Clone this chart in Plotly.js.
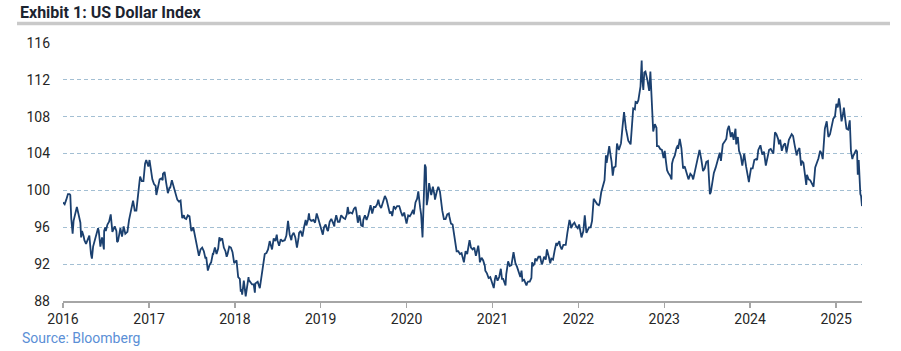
<!DOCTYPE html>
<html><head><meta charset="utf-8">
<script src="https://cdn.plot.ly/plotly-3.0.1.min.js"></script>
<style>html,body{margin:0;padding:0;background:#fff}#chart{width:901px;height:351px}</style>
</head><body><div id="chart"></div>
<script>
// US Dollar Index (DXY), readings
const dates = [
"2016-01-01","2016-01-08","2016-01-15","2016-01-22","2016-01-29",
"2016-02-01","2016-02-05","2016-02-11","2016-02-15","2016-02-22","2016-02-29",
"2016-03-01","2016-03-08","2016-03-15","2016-03-18","2016-03-22","2016-03-29",
"2016-04-01","2016-04-08","2016-04-15","2016-04-22","2016-04-29",
"2016-05-03","2016-05-08","2016-05-15","2016-05-22","2016-05-29",
"2016-06-01","2016-06-08","2016-06-15","2016-06-23","2016-06-24","2016-06-29",
"2016-07-01","2016-07-08","2016-07-15","2016-07-22","2016-07-29",
"2016-08-01","2016-08-08","2016-08-15","2016-08-18","2016-08-22","2016-08-29",
"2016-09-01","2016-09-08","2016-09-15","2016-09-22","2016-09-29",
"2016-10-01","2016-10-08","2016-10-15","2016-10-22","2016-10-25","2016-10-29",
"2016-11-01","2016-11-08","2016-11-15","2016-11-22","2016-11-24","2016-11-29",
"2016-12-01","2016-12-08","2016-12-15","2016-12-20","2016-12-22","2016-12-29",
"2017-01-03","2017-01-08","2017-01-15","2017-01-22","2017-01-29",
"2017-02-01","2017-02-08","2017-02-15","2017-02-22","2017-02-28",
"2017-03-01","2017-03-08","2017-03-15","2017-03-22","2017-03-29",
"2017-04-01","2017-04-08","2017-04-15","2017-04-22","2017-04-29",
"2017-05-01","2017-05-08","2017-05-15","2017-05-22","2017-05-29",
"2017-06-01","2017-06-08","2017-06-15","2017-06-22","2017-06-29",
"2017-07-01","2017-07-08","2017-07-15","2017-07-22","2017-07-29",
"2017-08-01","2017-08-08","2017-08-15","2017-08-22","2017-08-29",
"2017-09-01","2017-09-08","2017-09-15","2017-09-22","2017-09-29",
"2017-10-01","2017-10-08","2017-10-15","2017-10-22","2017-10-27",
"2017-11-01","2017-11-08","2017-11-15","2017-11-22","2017-11-27",
"2017-12-01","2017-12-08","2017-12-15","2017-12-22","2017-12-29",
"2018-01-01","2018-01-08","2018-01-15","2018-01-22","2018-01-26","2018-01-29",
"2018-02-01","2018-02-08","2018-02-16","2018-02-22","2018-02-28",
"2018-03-01","2018-03-08","2018-03-15","2018-03-22","2018-03-27","2018-03-29",
"2018-04-01","2018-04-08","2018-04-17","2018-04-22","2018-04-29",
"2018-05-01","2018-05-08","2018-05-15","2018-05-22","2018-05-29",
"2018-06-01","2018-06-08","2018-06-15","2018-06-22","2018-06-28",
"2018-07-01","2018-07-08","2018-07-15","2018-07-22","2018-07-29",
"2018-08-01","2018-08-08","2018-08-15","2018-08-22","2018-08-29",
"2018-09-01","2018-09-08","2018-09-15","2018-09-22","2018-09-29",
"2018-10-01","2018-10-08","2018-10-15","2018-10-22","2018-10-29",
"2018-11-01","2018-11-08","2018-11-12","2018-11-15","2018-11-22","2018-11-29",
"2018-12-01","2018-12-08","2018-12-15","2018-12-22","2018-12-29",
"2019-01-01","2019-01-03","2019-01-10","2019-01-15","2019-01-22","2019-01-29",
"2019-02-01","2019-02-08","2019-02-15","2019-02-22","2019-02-28",
"2019-03-01","2019-03-08","2019-03-15","2019-03-22","2019-03-29",
"2019-04-01","2019-04-08","2019-04-15","2019-04-22","2019-04-26",
"2019-05-01","2019-05-08","2019-05-15","2019-05-22","2019-05-29",
"2019-06-01","2019-06-08","2019-06-15","2019-06-22","2019-06-29",
"2019-07-01","2019-07-08","2019-07-15","2019-07-22","2019-07-29",
"2019-08-01","2019-08-08","2019-08-15","2019-08-22","2019-08-29",
"2019-09-03","2019-09-08","2019-09-15","2019-09-22","2019-09-29",
"2019-10-01","2019-10-08","2019-10-15","2019-10-22","2019-10-29",
"2019-11-01","2019-11-08","2019-11-15","2019-11-22","2019-11-29",
"2019-12-01","2019-12-08","2019-12-15","2019-12-22","2019-12-29",
"2020-01-01","2020-01-08","2020-01-15","2020-01-22","2020-01-29",
"2020-02-01","2020-02-08","2020-02-15","2020-02-20","2020-02-28",
"2020-03-03","2020-03-09","2020-03-12","2020-03-15","2020-03-19","2020-03-23","2020-03-27",
"2020-04-01","2020-04-06","2020-04-15","2020-04-22","2020-04-29",
"2020-05-01","2020-05-08","2020-05-15","2020-05-22","2020-05-29",
"2020-06-01","2020-06-08","2020-06-15","2020-06-22","2020-06-29",
"2020-07-01","2020-07-08","2020-07-15","2020-07-22","2020-07-29",
"2020-08-01","2020-08-08","2020-08-15","2020-08-22","2020-08-29",
"2020-09-01","2020-09-08","2020-09-15","2020-09-25","2020-09-29",
"2020-10-01","2020-10-08","2020-10-15","2020-10-22","2020-10-29",
"2020-11-01","2020-11-04","2020-11-08","2020-11-15","2020-11-22","2020-11-29",
"2020-12-01","2020-12-08","2020-12-15","2020-12-22","2020-12-29",
"2021-01-06","2021-01-11","2021-01-15","2021-01-22","2021-01-29",
"2021-02-05","2021-02-10","2021-02-15","2021-02-25","2021-02-28",
"2021-03-08","2021-03-15","2021-03-22","2021-03-31",
"2021-04-08","2021-04-15","2021-04-22","2021-04-29",
"2021-05-04","2021-05-08","2021-05-15","2021-05-25","2021-05-29",
"2021-06-01","2021-06-08","2021-06-15","2021-06-18","2021-06-22","2021-06-29",
"2021-07-01","2021-07-08","2021-07-15","2021-07-22","2021-07-29",
"2021-08-01","2021-08-08","2021-08-15","2021-08-20","2021-08-29",
"2021-09-03","2021-09-08","2021-09-15","2021-09-22","2021-09-29",
"2021-10-01","2021-10-12","2021-10-15","2021-10-22","2021-10-29",
"2021-11-01","2021-11-08","2021-11-15","2021-11-24","2021-11-29",
"2021-12-01","2021-12-08","2021-12-15","2021-12-22","2021-12-29",
"2022-01-04","2022-01-08","2022-01-14","2022-01-22","2022-01-28",
"2022-02-04","2022-02-08","2022-02-15","2022-02-22","2022-02-28",
"2022-03-07","2022-03-15","2022-03-22","2022-03-29",
"2022-04-01","2022-04-08","2022-04-15","2022-04-22","2022-04-28",
"2022-05-01","2022-05-12","2022-05-18","2022-05-22","2022-05-27",
"2022-06-01","2022-06-08","2022-06-14","2022-06-22","2022-06-29",
"2022-07-01","2022-07-08","2022-07-14","2022-07-22","2022-07-29",
"2022-08-01","2022-08-11","2022-08-15","2022-08-22","2022-08-29",
"2022-09-01","2022-09-08","2022-09-13","2022-09-22","2022-09-27","2022-09-29",
"2022-10-04","2022-10-08","2022-10-13","2022-10-22","2022-10-29",
"2022-11-03","2022-11-08","2022-11-10","2022-11-15","2022-11-22","2022-11-29",
"2022-12-01","2022-12-08","2022-12-15","2022-12-22","2022-12-29",
"2023-01-03","2023-01-09","2023-01-13","2023-01-18","2023-01-26",
"2023-02-01","2023-02-03","2023-02-08","2023-02-15","2023-02-22","2023-02-28",
"2023-03-01","2023-03-08","2023-03-15","2023-03-22","2023-03-29",
"2023-04-05","2023-04-14","2023-04-22","2023-04-29",
"2023-05-04","2023-05-15","2023-05-22","2023-05-31",
"2023-06-08","2023-06-15","2023-06-22","2023-06-29",
"2023-07-06","2023-07-14","2023-07-18","2023-07-25","2023-07-31",
"2023-08-08","2023-08-15","2023-08-25","2023-08-30",
"2023-09-07","2023-09-15","2023-09-22","2023-09-27",
"2023-10-03","2023-10-11","2023-10-17","2023-10-23","2023-10-31",
"2023-11-03","2023-11-10","2023-11-15","2023-11-22","2023-11-29",
"2023-12-07","2023-12-15","2023-12-22","2023-12-27","2023-12-29",
"2024-01-05","2024-01-12","2024-01-19","2024-01-26","2024-01-31",
"2024-02-05","2024-02-14","2024-02-22","2024-02-29",
"2024-03-08","2024-03-15","2024-03-22","2024-03-29",
"2024-04-03","2024-04-09","2024-04-16","2024-04-22","2024-04-29",
"2024-05-03","2024-05-08","2024-05-15","2024-05-22","2024-05-29",
"2024-06-04","2024-06-08","2024-06-14","2024-06-26",
"2024-07-02","2024-07-08","2024-07-17","2024-07-22","2024-07-29",
"2024-08-05","2024-08-08","2024-08-15","2024-08-22","2024-08-27","2024-08-30",
"2024-09-06","2024-09-13","2024-09-20","2024-09-27",
"2024-10-04","2024-10-11","2024-10-18","2024-10-25","2024-10-31",
"2024-11-05","2024-11-08","2024-11-14","2024-11-22","2024-11-29",
"2024-12-06","2024-12-13","2024-12-20","2024-12-27",
"2025-01-02","2025-01-08","2025-01-13","2025-01-17","2025-01-24","2025-01-31",
"2025-02-03","2025-02-07","2025-02-14","2025-02-21","2025-02-28",
"2025-03-05","2025-03-11","2025-03-14","2025-03-21","2025-03-27","2025-03-31",
"2025-04-03","2025-04-07","2025-04-10","2025-04-14","2025-04-17","2025-04-21"
];
const dxy = [
98.7,98.5,99.0,99.6,99.6,
99.5,97.0,95.3,96.7,97.4,98.2,
98.1,97.3,96.5,94.9,95.6,95.0,
94.6,94.2,94.7,95.1,93.1,
92.6,93.9,94.6,95.3,95.9,
95.6,93.9,94.9,93.6,95.6,96.0,
95.6,96.3,96.6,97.4,95.5,
95.7,96.1,95.6,94.4,94.5,95.9,
95.9,95.0,96.1,95.3,95.4,
95.5,96.8,97.8,98.6,98.9,98.3,
97.8,97.8,99.9,101.1,101.5,101.2,
101.0,101.0,102.9,103.3,103.1,102.6,
103.3,102.2,101.2,100.7,100.5,
99.5,100.6,101.2,101.3,101.1,
101.8,102.0,100.8,99.7,100.3,
100.3,101.1,100.5,99.8,99.1,
99.0,98.8,98.9,97.0,97.3,
97.0,96.9,97.3,97.2,95.7,
95.6,96.0,95.2,94.3,93.3,
92.9,93.6,93.8,93.4,92.6,
92.8,91.3,91.9,92.2,93.1,
93.1,93.8,93.1,93.7,94.9,
94.6,94.8,93.8,93.4,92.8,
93.1,93.9,93.8,93.3,92.1,
92.2,92.4,90.6,90.4,89.0,89.3,
88.7,90.2,88.5,89.9,90.6,
90.3,90.1,89.8,89.8,88.9,89.9,
90.0,90.1,89.4,90.3,91.6,
92.4,93.1,93.2,93.6,94.5,
94.2,93.6,94.8,94.5,95.2,
94.6,94.0,94.7,94.5,94.6,
94.6,95.1,96.7,95.2,94.6,
95.1,95.4,94.9,93.8,94.9,
95.4,95.6,95.0,96.0,96.8,
96.2,96.8,97.5,96.9,96.7,96.8,
96.8,96.5,97.5,96.9,96.2,
96.2,95.8,95.2,96.0,96.3,95.7,
95.6,96.6,96.9,96.5,96.1,
96.5,97.3,96.6,96.6,97.3,
97.2,97.0,96.9,97.4,98.2,
97.5,97.6,97.5,98.0,98.2,
97.8,96.5,97.3,96.2,96.1,
96.8,97.3,96.8,97.3,98.1,
98.4,97.5,98.2,98.2,98.5,
99.0,98.4,98.1,98.6,99.1,
99.4,99.0,98.3,97.5,97.7,
97.2,98.3,98.0,98.3,98.3,
98.3,97.7,97.2,97.6,96.9,
96.4,97.3,97.2,97.5,97.9,
97.4,98.7,99.1,99.9,98.1,
97.4,94.9,97.5,98.7,102.8,102.5,98.4,
99.2,100.8,99.5,100.4,99.5,
99.0,99.8,100.4,99.9,98.3,
97.8,96.9,96.9,97.4,97.5,
97.2,96.4,96.3,95.0,93.5,
93.4,93.4,93.1,93.2,92.4,
92.2,93.4,93.1,94.6,93.9,
93.8,93.6,93.8,92.9,93.9,
94.0,93.4,92.2,92.7,92.4,91.8,
91.3,91.0,90.5,90.6,89.9,
89.4,90.4,90.8,90.2,90.6,
91.5,90.4,90.4,89.7,90.9,
92.3,91.8,91.9,93.3,
92.1,91.7,91.2,90.6,
91.3,90.2,90.3,89.7,90.0,
90.1,90.1,90.5,92.2,91.8,92.1,
92.6,92.4,92.8,92.8,92.0,
92.1,92.8,92.5,93.6,92.7,
92.1,92.6,92.5,93.5,94.3,
94.0,94.5,94.0,93.6,94.1,
94.1,94.1,95.4,96.8,96.3,
95.9,96.3,96.5,96.1,95.9,
96.3,95.7,94.9,95.6,97.3,
95.4,95.6,96.0,96.0,96.7,
99.1,98.8,98.5,98.4,
98.6,99.8,100.5,101.1,103.8,
103.0,104.8,103.8,103.1,101.6,
102.5,102.6,105.1,104.4,105.1,
105.1,107.0,108.5,106.7,105.9,
105.4,105.0,106.5,108.9,108.8,
109.6,109.5,109.8,111.3,114.1,112.3,
110.9,112.8,112.9,111.9,110.8,
112.9,109.7,107.9,106.4,107.2,106.8,
104.8,104.8,104.5,104.4,103.5,
104.3,103.0,102.2,101.9,101.6,
101.2,102.9,103.4,103.8,104.6,104.9,
104.5,105.6,104.6,102.4,102.6,
101.9,101.2,101.8,101.6,
101.2,102.4,103.2,104.4,
103.3,102.1,102.4,103.1,
103.2,99.6,99.8,101.3,101.9,
102.5,103.2,104.1,103.2,
105.0,105.3,105.6,106.6,
107.0,105.8,106.3,105.5,106.7,
105.0,105.8,104.3,103.8,102.7,
104.0,102.6,101.7,100.9,101.3,
102.4,102.4,103.3,103.4,103.3,
104.4,104.9,103.9,104.2,
102.7,103.4,104.4,104.5,
104.2,104.0,106.3,106.1,105.6,
105.0,105.5,104.3,104.9,105.1,
104.1,104.9,105.5,106.1,
105.9,105.0,103.8,104.3,104.6,
102.7,103.2,103.0,101.5,100.6,101.7,
101.2,101.1,100.8,100.4,
102.5,102.9,103.5,104.3,104.0,
103.4,104.9,106.7,107.5,105.8,
106.1,107.0,107.8,108.0,
109.4,109.0,110.0,109.3,107.5,108.4,
109.0,108.1,106.7,106.6,107.6,
104.3,103.4,103.7,104.1,104.4,104.2,
101.7,103.3,100.8,99.6,99.4,98.3
];
const yTicks = [88, 92, 96, 100, 104, 108, 112, 116];
const xTickYears = ["2016","2017","2018","2019","2020","2021","2022","2023","2024","2025"];
const chartTitle = "Exhibit 1: US Dollar Index";
const sourceText = "Source: Bloomberg";

if (dates.length !== dxy.length) {
  throw new Error("length mismatch: dates " + dates.length + " vs dxy " + dxy.length);
}

const W = 901, H = 351;
const L = 63, R = 39, T = 43, B = 50;
const plotW = W - L - R, plotH = H - T - B;
const px2x = p => (p - L) / plotW;
const py2y = p => (H - B - p) / plotH;

const tickFont = {family: "Roboto, 'Open Sans', sans-serif", size: 14, color: "#262626"};

const trace = {
  type: "scatter", mode: "lines",
  x: dates, y: dxy,
  line: {color: "#1b406f", width: 1.8},
  hoverinfo: "x+y"
};

const layout = {
  width: W, height: H,
  margin: {l: L, r: R, t: T, b: B, pad: 0},
  paper_bgcolor: "#fff", plot_bgcolor: "#fff",
  showlegend: false,
  title: {
    text: "<b>" + chartTitle + "</b>",
    font: {family: "Roboto, sans-serif", size: 16, color: "#1c2430"},
    x: 20 / W, xref: "container", xanchor: "left",
    y: 1 - 12 / H, yref: "container", yanchor: "middle"
  },
  xaxis: {
    type: "date",
    range: [dates[0], dates[dates.length - 1]],
    tickmode: "array",
    tickvals: xTickYears.map(y => y + "-01-01"),
    ticktext: xTickYears,
    showgrid: false, zeroline: false,
    showline: true, linecolor: "#a6a6a6", linewidth: 1.5,
    ticks: "outside", ticklen: 5, tickwidth: 1.5, tickcolor: "#a6a6a6",
    tickfont: tickFont
  },
  yaxis: {
    range: [yTicks[0], yTicks[yTicks.length - 1]],
    tickmode: "array", tickvals: yTicks,
    showgrid: true, gridcolor: "#a3bfd3", gridwidth: 1, griddash: "4px,3px",
    zeroline: false, showline: false, ticks: "",
    ticklabelstandoff: 12,
    tickfont: tickFont
  },
  shapes: [{
    type: "line", xref: "paper", yref: "paper",
    x0: px2x(17), x1: px2x(890), y0: py2y(23.5), y1: py2y(23.5),
    line: {color: "#c9c9c9", width: 3.5}
  }],
  annotations: [{
    text: sourceText, showarrow: false,
    xref: "paper", yref: "paper",
    x: px2x(20), xanchor: "left",
    y: py2y(338), yanchor: "middle",
    font: {family: "Roboto, sans-serif", size: 14, color: "#5b8fd6"}
  }]
};

Plotly.newPlot("chart", [trace], layout, {displayModeBar: false, staticPlot: true});
</script>
</body></html>
